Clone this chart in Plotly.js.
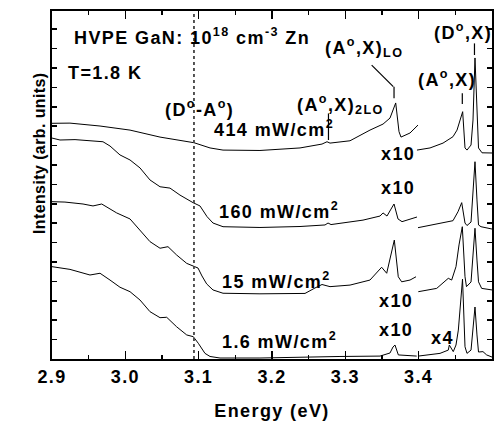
<!DOCTYPE html>
<html>
<head>
<meta charset="utf-8">
<script src="https://cdn.plot.ly/plotly-3.0.1.min.js"></script>
<style>
  html, body { margin: 0; padding: 0; background: #fff; }
  text { letter-spacing: 1.4px; }
</style>
</head>
<body>
<div id="chart" style="width:504px;height:422px;"></div>
<script>
// ---- data (energy in eV, intensity in arbitrary units) ----
// 414 mW/cm2, low-energy part
const e414a = [2.900,2.9245,2.9655,3.0064,3.0473,3.0936,3.1155,3.1332,3.1836,3.2382,3.2682,3.2750,3.2791,3.3064,3.3336,3.3514,3.3609,3.3650,3.3687,3.3732,3.3759,3.3882,3.3991];
const i414a = [12.15,12.16,12.01,11.80,11.44,11.15,10.88,10.77,10.75,10.88,11.08,11.20,11.13,11.25,11.80,12.11,12.42,12.84,13.20,11.72,11.44,11.65,12.06];
// 414 mW/cm2, excitonic part (x10)
const e414b = [3.3977,3.4155,3.4332,3.4468,3.4523,3.4570,3.4600,3.4632,3.4659,3.4714,3.4741,3.4768,3.4795,3.4816,3.4864,3.5000];
const i414b = [10.77,10.88,11.13,11.46,11.80,12.32,12.75,10.88,10.77,11.03,12.32,15.52,12.32,10.88,10.63,10.62];

// 160 mW/cm2
const e160a = [2.900,2.9109,2.9314,2.9518,2.9695,2.9791,2.9927,3.0064,3.0200,3.0336,3.0473,3.0609,3.0745,3.0923,3.1018,3.1114,3.1195,3.1332,3.1836,3.2382,3.2723,3.2764,3.2805,3.3241,3.3473,3.3514,3.3568,3.3623,3.3664,3.3718,3.3773,3.3977];
const i160a = [11.39,11.29,11.31,11.24,11.20,10.98,10.52,10.26,9.85,9.23,8.88,8.81,8.45,8.06,7.89,7.34,7.01,6.82,6.78,6.83,6.91,7.01,6.93,7.16,7.37,7.53,7.37,7.73,7.99,7.22,7.08,7.32];
const e160b = [3.3991,3.4291,3.4468,3.4536,3.4564,3.4587,3.4632,3.4659,3.4714,3.4741,3.4768,3.4795,3.4816,3.4850,3.5000];
const i160b = [6.77,7.01,7.13,7.59,7.84,8.06,7.01,6.88,7.06,8.45,10.17,8.20,6.91,6.82,6.70];

// 15 mW/cm2
const e15a = [2.900,2.9177,2.9423,2.9559,2.9678,2.9764,2.9882,3.0064,3.0200,3.0336,3.0473,3.0582,3.0700,3.0837,3.0927,3.0991,3.1045,3.1109,3.1195,3.1332,3.1836,3.2450,3.2586,3.2682,3.2791,3.3064,3.3336,3.3445,3.3495,3.3564,3.3609,3.3668,3.3722,3.3768,3.3882,3.3964];
const i15a = [8.11,8.09,7.99,7.89,7.99,7.78,7.53,7.22,6.65,6.05,5.71,5.79,5.36,4.93,4.79,4.69,4.28,3.87,3.56,3.39,3.36,3.38,3.66,3.84,3.73,3.81,4.07,4.50,4.73,4.42,5.10,6.13,4.24,3.98,4.07,4.24];
const e15b = [3.3995,3.4246,3.4404,3.4450,3.4509,3.4550,3.4595,3.4632,3.4652,3.4714,3.4741,3.4768,3.4795,3.4816,3.4859,3.5000];
const i15b = [3.47,3.64,4.16,4.07,4.76,5.88,6.82,4.24,3.73,3.97,5.36,6.74,5.10,3.98,3.64,3.56];

// 1.6 mW/cm2
const e16a = [2.900,2.9245,2.9518,2.9655,2.9791,2.9927,3.0064,3.0200,3.0336,3.0473,3.0564,3.0700,3.0837,3.0927,3.0995,3.1086,3.1155,3.1291,3.1836,3.2382,3.2927,3.3473,3.3609,3.3650,3.3677,3.3723,3.3973];
const i16a = [4.76,4.62,4.33,4.42,4.07,3.70,3.47,3.04,2.44,2.13,2.15,1.66,1.24,1.15,0.81,0.29,0.13,0.05,0.05,0.10,0.13,0.15,0.31,0.62,0.72,0.21,0.15];
const e16b = [3.3995,3.4291,3.4404,3.4418,3.4472,3.4509,3.4541,3.4570,3.4598,3.4632,3.4659,3.4714,3.4741,3.4768,3.4795,3.4816,3.4877,3.4927,3.5000];
const i16b = [0.15,0.29,0.46,0.72,0.38,0.72,1.49,3.04,4.12,0.63,0.29,0.46,1.49,2.68,1.24,0.36,0.38,0.21,0.10];

// labels
const powerLabels = ['414 mW/cm<sup>2</sup>','160 mW/cm<sup>2</sup>','15 mW/cm<sup>2</sup>','1.6 mW/cm<sup>2</sup>'];
const factorLabels = ['x10','x10','x10','x10','x4'];
const peakLabels = ['(D<sup>o</sup>-A<sup>o</sup>)','(A<sup>o</sup>,X)<sub>LO</sub>','(A<sup>o</sup>,X)<sub>2LO</sub>','(A<sup>o</sup>,X)','(D<sup>o</sup>,X)'];
const sampleLabel = 'HVPE GaN: 10<sup>18</sup> cm<sup>-3</sup> Zn';
const tempLabel = 'T=1.8 K';
const xTitle = 'Energy (eV)';
const yTitle = 'Intensity (arb. units)';
const dapEnergy = 3.0936;

const FONT = 'Liberation Sans, Arial, Helvetica, sans-serif';
const line = {color: '#000', width: 1};
const segs = [[e414a,i414a],[e414b,i414b],[e160a,i160a],[e160b,i160b],[e15a,i15a],[e15b,i15b],[e16a,i16a],[e16b,i16b]];
const traces = segs.map(s => ({x: s[0], y: s[1], type: 'scatter', mode: 'lines', line: line, hoverinfo: 'skip', showlegend: false}));

function ann(text, x, y, xanchor, extra) {
  return Object.assign({text: text, x: x, y: y, xref: 'x', yref: 'y', xanchor: xanchor || 'center', yanchor: 'middle',
    showarrow: false, font: {family: FONT, size: 18, weight: 'bold', color: '#000'}}, extra || {});
}

const annotations = [
  ann(sampleLabel, 2.9269, 16.62, 'left'),
  ann(tempLabel, 2.9191, 14.73, 'left'),
  ann(peakLabels[0], 3.1005, 12.93, 'center'),
  ann(peakLabels[1], 3.2700, 16.06, 'left'),
  ann(peakLabels[2], 3.2314, 13.11, 'left'),
  ann(peakLabels[3], 3.4393, 14.48, 'center'),
  ann(peakLabels[4], 3.4598, 16.90, 'center'),
  ann(powerLabels[0], 3.1177, 11.88, 'left'),
  ann(powerLabels[1], 3.1246, 7.64, 'left'),
  ann(powerLabels[2], 3.1291, 4.03, 'left'),
  ann(powerLabels[3], 3.1291, 0.96, 'left'),
  ann(factorLabels[0], 3.3718, 10.56, 'center'),
  ann(factorLabels[1], 3.3718, 8.80, 'center'),
  ann(factorLabels[2], 3.3691, 2.98, 'center'),
  ann(factorLabels[3], 3.3691, 1.49, 'center'),
  ann(factorLabels[4], 3.4325, 1.07, 'center'),
  {text: '<span style="letter-spacing:0.4px">' + yTitle + '</span>', xref: 'paper', yref: 'paper', x: -0.027, y: 0.592,
   xanchor: 'center', yanchor: 'middle', textangle: -90, showarrow: false,
   font: {family: FONT, size: 16, weight: 'bold', color: '#000'}}
];

const lk = {color: '#000', width: 1.2};
const shapes = [
  {type: 'line', xref: 'x', yref: 'paper', x0: dapEnergy, x1: dapEnergy, y0: 0, y1: 1, line: {color: '#444', width: 1.8, dash: 'dot'}},
  {type: 'line', xref: 'x', yref: 'y', x0: 3.3359, y0: 15.15, x1: 3.3654, y1: 14.04, line: lk},
  {type: 'line', xref: 'x', yref: 'y', x0: 3.3664, y0: 14.04, x1: 3.3664, y1: 13.44, line: lk},
  {type: 'line', xref: 'x', yref: 'y', x0: 3.2770, y0: 12.66, x1: 3.2770, y1: 11.29, line: lk},
  {type: 'line', xref: 'x', yref: 'y', x0: 3.4595, y0: 13.70, x1: 3.4595, y1: 13.14, line: lk},
  {type: 'line', xref: 'x', yref: 'y', x0: 3.4761, y0: 16.27, x1: 3.4761, y1: 15.67, line: lk}
];

const layout = {
  width: 504, height: 422,
  margin: {l: 52, r: 12, t: 11, b: 63, pad: 0},
  paper_bgcolor: '#fff', plot_bgcolor: '#fff',
  showlegend: false,
  xaxis: {
    range: [2.9, 3.5], tick0: 2.9, dtick: 0.1, tickformat: '.1f',
    ticks: 'inside', ticklen: 8, tickwidth: 1.5, tickcolor: '#000',
    minor: {ticks: 'inside', ticklen: 4, tickwidth: 1.5, dtick: 0.05, tickcolor: '#000'},
    showline: true, linecolor: '#000', linewidth: 2, mirror: 'ticks',
    showgrid: false, zeroline: false,
    tickfont: {family: FONT, size: 18, weight: 'bold', color: '#000'},
    title: {text: xTitle, font: {family: FONT, size: 18, weight: 'bold', color: '#000'}, standoff: 19}
  },
  yaxis: {
    range: [0, 17.94], tick0: 0, dtick: 1,
    ticks: 'inside', ticklen: 5, tickwidth: 1.5, tickcolor: '#000',
    showticklabels: false,
    showline: true, linecolor: '#000', linewidth: 2, mirror: 'ticks',
    showgrid: false, zeroline: false
  },
  annotations: annotations,
  shapes: shapes
};

Plotly.newPlot('chart', traces, layout, {staticPlot: true, displayModeBar: false});
</script>
</body>
</html>
